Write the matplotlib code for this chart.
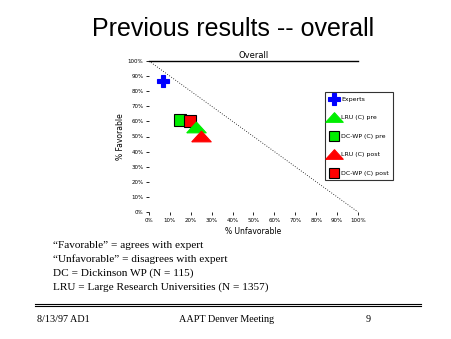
import matplotlib
matplotlib.use("Agg")
from matplotlib import pyplot as plt

# data (% unfavorable, % favorable)
groups = ["Experts", "LRU (C) pre", "DC-WP (C) pre", "LRU (C) post", "DC-WP (C) post"]
unfavorable = [6.7, 22.3, 15.0, 25.0, 19.7]
favorable = [87.0, 56.0, 61.0, 50.5, 60.0]
colors = ["#0000ff", "#00ee00", "#00ee00", "#ff0000", "#ff0000"]

tick_vals = list(range(0, 101, 10))
tick_labels = [f"{v}%" for v in tick_vals]

notes = [
    "\u201cFavorable\u201d = agrees with expert",
    "\u201cUnfavorable\u201d = disagrees with expert",
    "DC = Dickinson WP (N = 115)",
    "LRU = Large Research Universities (N = 1357)",
]

# flat triangle like the old chart program draws
flat_tri = [(-1, -0.55), (1, -0.55), (0, 0.55), (-1, -0.55)]
markers = ["P", flat_tri, "s", flat_tri, "s"]
sizes = [9, 14, 8.5, 14, 8.5]
zorders = [3, 5, 3, 6, 4]

W, H = 452, 339
fig = plt.figure(figsize=(W / 100, H / 100), dpi=100)
fig.patch.set_facecolor("white")

ax = fig.add_axes([149 / W, 1 - 212 / H, (358 - 149) / W, (212 - 61) / H])
ax.plot([0, 100], [100, 0], color="black", lw=0.6, ls=(0, (1, 2)))
handles = []
for g, x, y, m, c, s, z in zip(groups, unfavorable, favorable, markers, colors, sizes, zorders):
    edge = "black" if m == "s" else c
    h, = ax.plot(x, y, marker=m, ms=s, color=c, mec=edge, mew=0.8, ls="none",
                 label=g, clip_on=False, zorder=z)
    handles.append(h)

ax.set_xlim(0, 100)
ax.set_ylim(0, 100)
ax.set_xticks(tick_vals)
ax.set_xticklabels(tick_labels)
ax.set_yticks(tick_vals)
ax.set_yticklabels(tick_labels)
ax.tick_params(labelsize=4, length=2, width=0.6, pad=2)
for side in ["left", "bottom", "right"]:
    ax.spines[side].set_visible(False)
ax.spines["top"].set_linewidth(1.0)
ax.set_xlabel("% Unfavorable", fontsize=5.5, labelpad=3)
ax.set_ylabel("% Favorable", fontsize=5.5, labelpad=2)
ax.set_title("Overall", fontsize=6, pad=2)

leg = fig.legend(handles=handles, loc="upper left", bbox_to_anchor=(325 / W, 1 - 92 / H),
                 fontsize=4.5, frameon=True, fancybox=False, borderpad=0.7,
                 borderaxespad=0, labelspacing=2.1, handletextpad=0.3,
                 handlelength=1.6, markerscale=0.9)
leg.get_frame().set_edgecolor("black")
leg.get_frame().set_linewidth(0.8)

fig.text(233 / W, 1 - 29 / H, "Previous results -- overall", ha="center", va="center",
         fontsize=18, family="Liberation Sans")

for i, line in enumerate(notes):
    fig.text(53 / W, 1 - (245 + 14 * i) / H, line, ha="left", va="center",
             fontsize=8.1, family="Liberation Serif")

fig.add_artist(plt.Line2D([35 / W, 421 / W], [1 - 303.5 / H] * 2, color="black", lw=0.8))
fig.add_artist(plt.Line2D([35 / W, 421 / W], [1 - 306 / H] * 2, color="black", lw=0.8))

fig.text(37 / W, 1 - 319 / H, "8/13/97 AD1", ha="left", va="center", fontsize=7.3,
         family="Liberation Serif")
fig.text(227 / W, 1 - 319 / H, "AAPT Denver Meeting", ha="center", va="center",
         fontsize=7.3, family="Liberation Serif")
fig.text(368 / W, 1 - 319 / H, "9", ha="center", va="center", fontsize=7.3,
         family="Liberation Serif")

fig.savefig("out.png", dpi=100)
